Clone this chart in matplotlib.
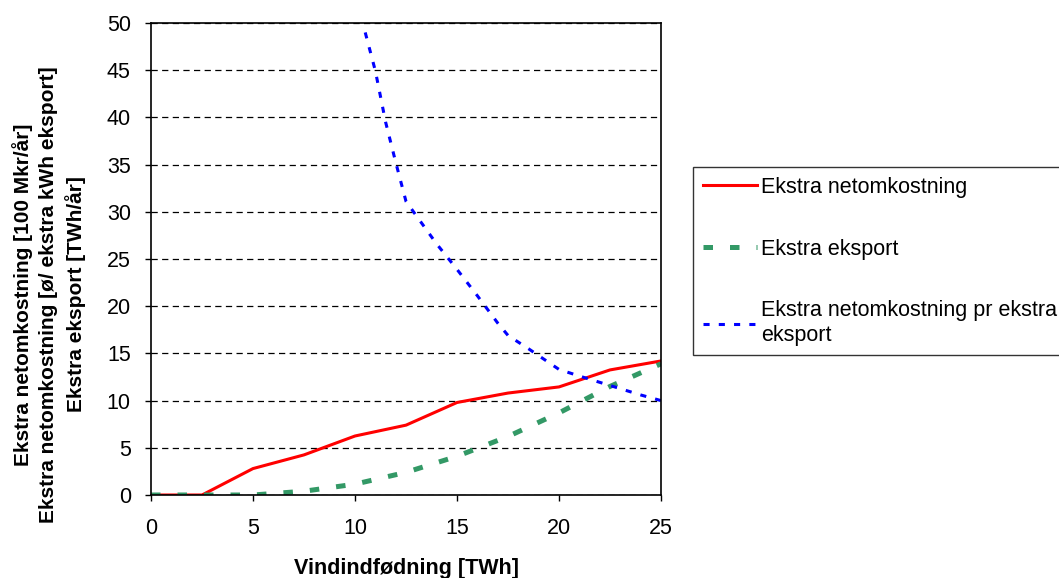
import numpy as np
import matplotlib.pyplot as plt

plt.rcParams['font.family'] = ['Liberation Sans', 'DejaVu Sans']

# data
vind = [0, 2.5, 5, 7.5, 10, 12.5, 15, 17.5, 20, 22.5, 25]
netomkost = [0, 0, 2.8, 4.25, 6.25, 7.4, 9.8, 10.8, 11.45, 13.25, 14.2]
eksport = [0, 0, 0, 0.4, 1.15, 2.4, 4.1, 6.2, 8.7, 11.5, 13.9]

vind_pr = [10.5, 11.0, 11.5, 12.0, 12.5, 13.0, 14.0, 15.0, 16.0, 17.0,
           17.5, 18.5, 20.0, 21.0, 22.5, 24.0, 25.0]
netomkost_pr = [49.0, 44.9, 39.5, 35.2, 31.1, 29.6, 26.6, 23.9, 21.1, 18.2,
                16.9, 15.5, 13.3, 12.6, 11.6, 10.6, 10.0]

labels = ['Ekstra netomkostning', 'Ekstra eksport',
          'Ekstra netomkostning pr ekstra\neksport']
ylabel_lines = ['Ekstra netomkostning [100 Mkr/år]',
                'Ekstra netomkostning [ø/ ekstra kWh eksport]',
                'Ekstra eksport [TWh/år]']

fs = 15.5

fig = plt.figure(figsize=(10.59, 5.78), dpi=100)
ax = fig.add_axes([0.1426, 0.1436, 0.4816, 0.8166])

ax.plot(vind, netomkost, color='#ff0000', lw=2.2, label=labels[0])
ax.plot(vind, eksport, color='#339966', lw=3.6, dashes=(1.9, 3.4),
        label=labels[1])
ax.plot(vind_pr, netomkost_pr, color='#0000ff', lw=2.2, dashes=(2.0, 3.0),
        label=labels[2])

ax.set_xlim(0, 25)
ax.set_ylim(0, 50)
ax.set_xticks(np.arange(0, 26, 5))
ax.set_yticks(np.arange(0, 51, 5))
ax.yaxis.grid(True, color='black', lw=0.9, dashes=(5, 3.5))
ax.set_axisbelow(True)
ax.tick_params(direction='out', length=4.5, width=1, labelsize=fs)
ax.tick_params(axis='x', pad=12)
ax.tick_params(axis='y', pad=10)
for s in ax.spines.values():
    s.set_linewidth(1.2)

ax.set_xlabel('Vindindfødning [TWh]', fontsize=fs, fontweight='bold')
ax.xaxis.set_label_coords(0.5, -0.133)
ax.set_ylabel('\n'.join(ylabel_lines), fontsize=15, fontweight='bold',
              linespacing=1.4, multialignment='center')
ax.yaxis.set_label_coords(-0.128, 0.425)

leg = fig.legend(loc='upper left', bbox_to_anchor=(693 / 1059, 1 - 167 / 578),
                 fontsize=fs, frameon=True, fancybox=False, edgecolor='black',
                 handlelength=2.5, handletextpad=0.2, labelspacing=1.9,
                 borderpad=0.45, borderaxespad=0)
leg.get_frame().set_linewidth(1.0)

fig.savefig('out.png', dpi=100)
